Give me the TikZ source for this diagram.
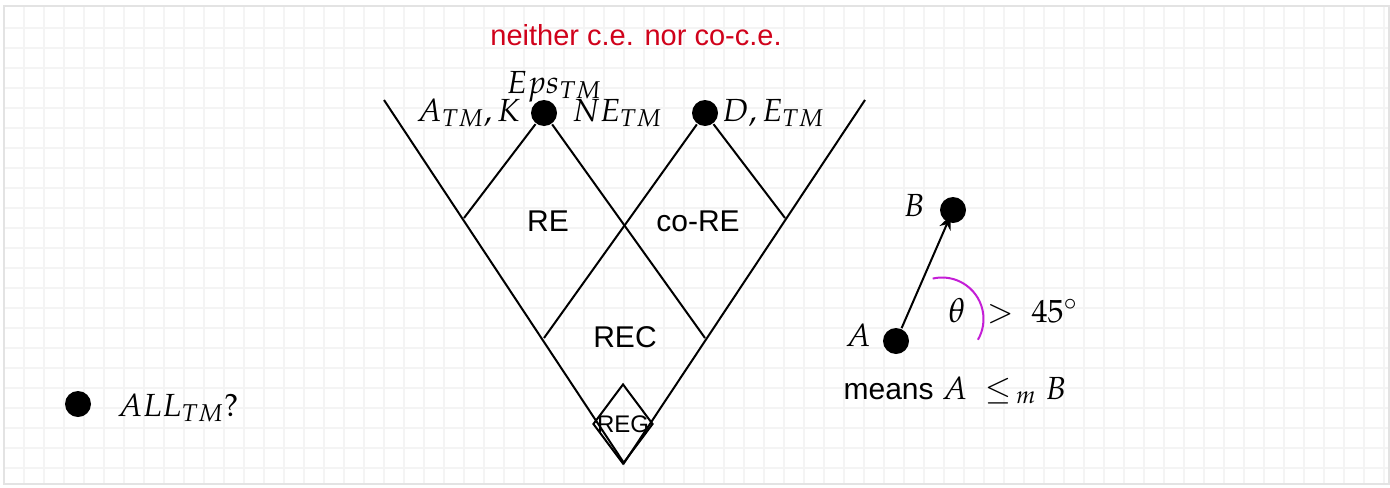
\documentclass[tikz,border=0pt]{standalone}
\usepackage{amsmath}
\usepackage{mathpazo}
\usepackage[no-math]{fontspec}
\setmainfont{Liberation Sans}
\usetikzlibrary{arrows.meta,shapes.geometric}
\definecolor{neitherred}{RGB}{208,2,27}
\definecolor{arcpurple}{RGB}{196,30,214}
\definecolor{gridgray}{RGB}{244,244,244}

\begin{document}
\begin{tikzpicture}[
    x=0.5pt, y=-0.5pt,
    dot/.style={circle, fill=black, minimum size=13pt, inner sep=0pt},
    mlabel/.style={font=\fontsize{16}{19}\selectfont, inner sep=0pt},
    region/.style={font=\fontsize{15}{18}\selectfont, inner sep=0pt},
    gridline/.style={gridgray, line width=1pt},
    every path/.append style={line width=1pt}
]
  \useasboundingbox (0,0) rectangle (1390,487);

  % Paper grid
  \foreach \gx in {24,44,...,1384} \draw[gridline] (\gx,6) -- (\gx,484);
  \foreach \gy in {28,48,...,480} \draw[gridline] (4,\gy) -- (1389,\gy);
  \draw[gray!22] (4,6) rectangle (1389,484);

  % Outer cone
  \coordinate (vtl) at (384,100);
  \coordinate (vtr) at (865,100);
  \coordinate (apex) at (624,463);
  \draw (vtl) -- (apex) -- (vtr);

  % Top points
  \node[dot] (eps) at (544,113) {};
  \node[dot] (dee) at (705,113) {};

  % Inner lines
  \coordinate (reL) at (464,218);
  \coordinate (coR) at (785,218);
  \coordinate (recL) at (544,338);
  \coordinate (recR) at (705,338);
  \draw (reL) -- (eps) -- (recR);
  \draw (recL) -- (dee) -- (coR);

  % Labels at the top
  \node[mlabel, anchor=base east] (atmk) at (521,121) {$A_{TM}, K$};
  \node[mlabel, anchor=base] (epstm) at (554,93) {$Eps_{TM}$};
  \node[mlabel, anchor=base west] (netm) at (571,121) {$NE_{TM}$};
  \node[mlabel, anchor=base west] (detm) at (721,121) {$D, E_{TM}$};
  \node[font=\fontsize{14.5}{17}\selectfont, text=neitherred] (neither) at (636,35) {neither c.e. nor co-c.e.};

  % Regions
  \node[region] (re) at (548,221) {RE};
  \node[region] (core) at (698,221) {co-RE};
  \node[region] (rec) at (625,337) {REC};
  \node[diamond, draw, minimum width=30pt, minimum height=40pt, inner sep=0pt] (regbox) at (623,424) {};
  \node[font=\fontsize{12}{14}\selectfont, inner sep=0pt] (reg) at (regbox.center) {REG};

  % Open question
  \node[dot] (alldot) at (78,404) {};
  \node[font=\fontsize{16}{19}\selectfont, anchor=west, inner sep=0pt] (alltm) at (116,408) {$ALL_{TM}?$};

  % Legend for the reduction arrow
  \node[dot] (bdot) at (953,210) {};
  \node[dot] (adot) at (896,341) {};
  \draw[-{Stealth[length=7pt,width=6pt]}, shorten >=-4pt] (adot) -- (bdot);
  \node[mlabel, anchor=base] (blab) at (914,216) {$B$};
  \node[mlabel, anchor=base] (alab) at (858,346) {$A$};
  \draw[arcpurple] (942,319) ++(-103:41.5) arc[start angle=-103, end angle=30, radius=41.5];
  \node[font=\fontsize{17}{20}\selectfont, inner sep=0pt, anchor=base] (theta) at (957,322) {$\theta$};
  \node[mlabel, anchor=base west] (gt) at (986,322) {$>\ 45^\circ$};
  \node[region, anchor=base] (means) at (955,399) {means \fontsize{16}{19}\selectfont$A\ \leq_{\,m} B$};
\end{tikzpicture}
\end{document}
